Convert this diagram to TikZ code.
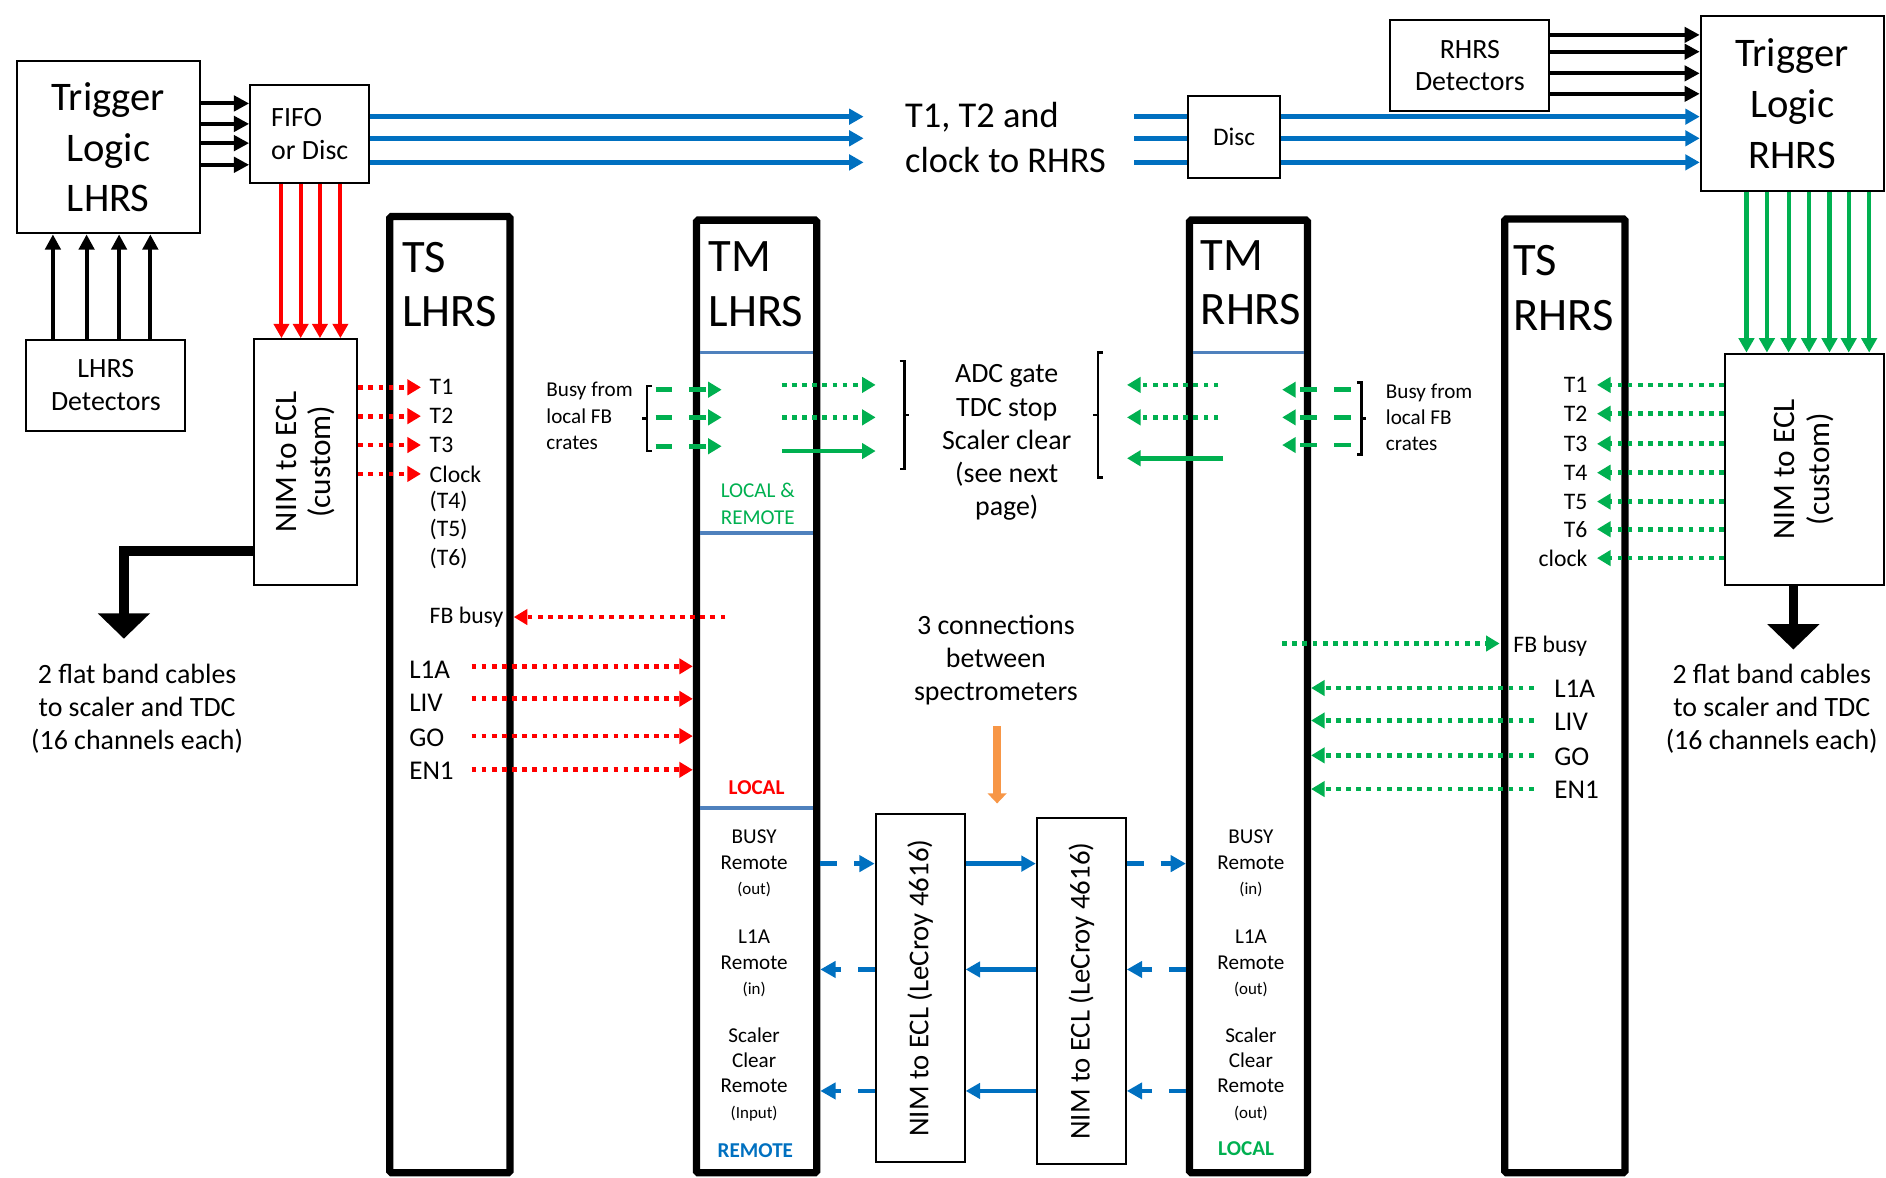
\documentclass[tikz,border=0pt]{standalone}
\usepackage{fontspec}
\setmainfont{Carlito}
\usetikzlibrary{arrows.meta, positioning, calc, fit}

\definecolor{tsred}{RGB}{255,0,0}
\definecolor{tsgreen}{RGB}{0,176,80}
\definecolor{tsblue}{RGB}{0,112,192}
\definecolor{sepblue}{RGB}{79,129,189}
\definecolor{connorange}{RGB}{247,150,70}

\newcommand{\portsmall}{\fontsize{10}{15}\selectfont}

\begin{document}
\begin{tikzpicture}[
    x=0.025cm, y=-0.025cm,
    box/.style={
        draw=black, line width=1.2pt,
        inner sep=0pt, align=center,
        font=\fontsize{16.5}{19.5}\selectfont
    },
    bigbox/.style={
        box, font=\fontsize{24}{30}\selectfont
    },
    rack/.style={
        draw=black, line width=4.3pt,
        inner sep=0pt, rounded corners=1pt
    },
    rackname/.style={
        anchor=north west, align=left, inner sep=0pt,
        font=\fontsize{27.5}{32}\selectfont
    },
    sig/.style={inner sep=0pt, font=\fontsize{14}{16.5}\selectfont},
    bigsig/.style={inner sep=0pt, font=\fontsize{16}{20}\selectfont},
    note/.style={inner sep=0pt, align=center, font=\fontsize{16.5}{19.6}\selectfont},
    busy/.style={inner sep=0pt, align=left, font=\fontsize{12.5}{15.6}\selectfont},
    port/.style={inner sep=0pt, align=center, font=\fontsize{12.5}{15}\selectfont},
    tag/.style={inner sep=0pt, align=center, font=\fontsize{12.5}{15.6}\selectfont},
    rotnim/.style={inner sep=0pt, align=center, rotate=90, font=\fontsize{18.5}{20.5}\selectfont},
    rotlec/.style={inner sep=0pt, rotate=90, font=\fontsize{17}{20}\selectfont},
    blk/.style={
        draw=black, line width=2.4pt,
        -{Triangle[length=9pt, width=9pt]}
    },
    redarrow/.style={
        draw=tsred, line width=2.4pt,
        -{Triangle[length=8.5pt, width=9pt]}
    },
    grnarrow/.style={
        draw=tsgreen, line width=2.4pt,
        -{Triangle[length=8.5pt, width=9pt]}
    },
    bluearrow/.style={
        draw=tsblue, line width=2.8pt,
        -{Triangle[length=8.5pt, width=9pt]}
    },
    blueline/.style={draw=tsblue, line width=2.8pt},
    reddot/.style={
        draw=tsred, line width=2.8pt, dash pattern=on 2.8pt off 3.2pt,
        -{Triangle[length=8pt, width=9pt]}
    },
    grndot/.style={
        draw=tsgreen, line width=2.8pt, dash pattern=on 2.8pt off 3.2pt,
        -{Triangle[length=8pt, width=9pt]}
    },
    grndash/.style={
        draw=tsgreen, line width=2.8pt, dash pattern=on 10pt off 10pt,
        -{Triangle[length=8pt, width=9pt]}
    },
    grnline/.style={
        draw=tsgreen, line width=2.8pt,
        -{Triangle[length=8pt, width=9pt]}
    },
    bluedash/.style={
        draw=tsblue, line width=2.8pt, dash pattern=on 10pt off 10pt,
        -{Triangle[length=9pt, width=9.5pt]}
    },
    brace/.style={draw=black, line width=1.4pt},
    divider/.style={draw=sepblue, line width=2.2pt, shorten <=4.3pt, shorten >=4.3pt},
    fatarrow/.style={
        draw=black, line width=5.7pt,
        -{Triangle[length=15pt, width=30pt]}
    },
    orangearrow/.style={
        draw=connorange, line width=4.5pt,
        -{Triangle[length=6pt, width=11pt]}
    }
]

\useasboundingbox (0,0) rectangle (1568,979);

% LHRS trigger side
\node[bigbox, minimum width=3.8cm, minimum height=3.575cm] (tll) at (90,122.5) {Trigger\\Logic\\LHRS};
\node[box, minimum width=2.475cm, minimum height=2.025cm, align=left] (fifo) at (257.5,111.5) {FIFO\\or Disc};
\node[box, minimum width=3.3cm, minimum height=1.875cm] (ldet) at (88,320.5) {LHRS\\Detectors};
\node[box, minimum width=2.15cm, minimum height=5.1cm] (nimL) at (254,384) {};
\node[rotnim] (nimLtxt) at (nimL.center) {NIM to ECL\\(custom)};

% RHRS trigger side
\node[box, minimum width=3.3cm, minimum height=1.875cm] (rdet) at (1222,54.5) {RHRS\\Detectors};
\node[bigbox, minimum width=3.8cm, minimum height=3.65cm] (tlr) at (1490,86) {Trigger\\Logic\\RHRS};
\node[box, minimum width=1.9cm, minimum height=1.7cm, font=\fontsize{15}{18}\selectfont] (disc) at (1026,114) {Disc};
\node[box, minimum width=3.3cm, minimum height=4.8cm] (nimR) at (1500,390) {};
\node[rotnim] (nimRtxt) at (nimR.center) {NIM to ECL\\(custom)};

\node[inner sep=0pt, align=left, font=\fontsize{21.5}{26.5}\selectfont] (t12) at (836,114) {T1, T2 and\\clock to RHRS};

% Arrows between trigger boxes
\foreach \y in {86,103,119,137}
    \draw[blk] (tll.east |- 0,\y) -- (fifo.west |- 0,\y);
\foreach \x in {44,72,99,125}
    \draw[blk] (ldet.north -| \x,0) -- (tll.south -| \x,0);
\foreach \y in {29,43,61,78}
    \draw[blk] (rdet.east |- 0,\y) -- (tlr.west |- 0,\y);
\foreach \x in {234,250,266,283}
    \draw[redarrow] (fifo.south -| \x,0) -- (nimL.north -| \x,0);
\foreach \x in {1452,1469,1487,1504,1521,1537,1554}
    \draw[grnarrow] (tlr.south -| \x,0) -- (nimR.north -| \x,0);
\foreach \y [count=\i] in {97,115,135} {
    \coordinate (bend\i) at (718,\y);
    \coordinate (bstart\i) at (943,\y);
    \draw[bluearrow] (fifo.east |- bend\i) -- (bend\i);
    \draw[blueline] (bstart\i) -- (disc.west |- bstart\i);
    \draw[bluearrow] (disc.east |- bstart\i) -- (tlr.west |- bstart\i);
}

% Flat band cables
\coordinate (lcab) at (103,531);
\coordinate (rcab) at (1491,540);
\draw[fatarrow] (nimL.west |- 0,458) -| (lcab);
\draw[fatarrow] (nimR.south -| rcab) -- (rcab);
\node[note] (lcabtxt) at (114,589) {2 flat band cables\\to scaler and TDC\\(16 channels each)};
\node[note] (rcabtxt) at (1473,589) {2 flat band cables\\to scaler and TDC\\(16 channels each)};

% Racks
\node[rack, fit={(324,180) (424,975)}] (tsl) {};
\node[rack, fit={(579,183) (679,975)}] (tml) {};
\node[rack, fit={(989,183) (1087,975)}] (tmr) {};
\node[rack, fit={(1251,182) (1351,975)}] (tsr) {};
\node[rackname] (tsltxt) at (334,201) {TS\\LHRS};
\node[rackname] (tmltxt) at (589,201) {TM\\LHRS};
\node[rackname] (tmrtxt) at (998,200) {TM\\RHRS};
\node[rackname] (tsrtxt) at (1258,204) {TS\\RHRS};

\foreach \y in {293,443,672}
    \draw[divider] (tml.west |- 0,\y) -- (tml.east |- 0,\y);
\draw[divider] (tmr.west |- 0,293) -- (tmr.east |- 0,293);

% TS LHRS signals
\foreach \t/\y [count=\i] in {T1/322,T2/346,T3/370,Clock/394} {
    \node[sig, anchor=west] (lin\i) at (357,\y) {\t};
    \draw[reddot] (nimL.east |- lin\i.west) -- ([xshift=-5pt]lin\i.west);
}
\foreach \t/\y [count=\i] in {(T4)/417,(T5)/440,(T6)/464}
    \node[sig, anchor=west] (lex\i) at (357,\y) {\t};
\node[sig, anchor=west] (lfb) at (357,513) {FB busy};
\coordinate (lfbsrc) at (603,513);
\draw[reddot] (lfbsrc) -- ([xshift=6pt]lfb.east);
\foreach \t/\y/\a [count=\i] in {L1A/557/554,LIV/584/581,GO/613/612,EN1/641/640} {
    \node[bigsig, anchor=west] (lout\i) at (340,\y) {\t};
    \draw[reddot] (392,\a) -- (tml.west |- 0,\a);
}

% TS RHRS signals
\foreach \t/\y [count=\i] in {T1/320,T2/344,T3/369,T4/393,T5/417,T6/440,clock/464} {
    \node[sig, anchor=east] (rin\i) at (1320,\y) {\t};
    \draw[grndot] (nimR.west |- rin\i.east) -- ([xshift=5.5pt]rin\i.east);
}
\node[sig, anchor=west] (rfb) at (1258,537) {FB busy};
\coordinate (rfbsrc) at (1066,535);
\draw[grndot] (rfbsrc) -- ([xshift=-8pt]rfb.west |- rfbsrc);
\foreach \t/\y/\a [count=\i] in {L1A/573/572,LIV/600/599,GO/629/628,EN1/657/656} {
    \node[bigsig, anchor=west] (rout\i) at (1292,\y) {\t};
    \draw[grndot] (1275,\a) -- (tmr.east |- 0,\a);
}

% Busy from local FB crates
\node[busy, anchor=west] (lbusy) at (454,346) {Busy from\\local FB\\crates};
\draw[brace] (542,321) -- (538,321) -- (538,375) -- (542,375) (538,348) -- (534,348);
\foreach \y in {324,347,371}
    \draw[grndash] (545,\y) -- (600,\y);
\node[busy, anchor=west] (rbusy) at (1152,347) {Busy from\\local FB\\crates};
\draw[brace] (1128,318) -- (1132,318) -- (1132,378) -- (1128,378) (1132,348) -- (1136,348);
\foreach \y in {324,347,370}
    \draw[grndash] (1123,\y) -- (1066,\y);

% ADC gate, TDC stop, scaler clear
\node[note] (adc) at (837,368) {ADC gate\\TDC stop\\Scaler clear\\(see next\\page)};
\draw[brace] (748,300) -- (752,300) -- (752,390) -- (748,390) (752,345) -- (756,345);
\draw[brace] (917,293) -- (913,293) -- (913,397) -- (917,397) (913,345) -- (909,345);
\foreach \y in {320,347}
    \draw[grndot] (650,\y) -- (728,\y);
\draw[grnline] (650,375) -- (728,375);
\foreach \y in {320,347}
    \draw[grndot] (1013,\y) -- (937,\y);
\draw[grnline] (1017,381) -- (937,381);

% TM labels
\node[tag, text=tsgreen] (lrtag) at (630,419) {LOCAL \&\\REMOTE};
\node[tag, text=tsred, font=\fontsize{12.5}{15}\selectfont\bfseries] (llocal) at (629,655) {LOCAL};
\node[tag, text=tsblue, font=\fontsize{12.5}{15}\selectfont\bfseries] (lremote) at (628,957) {REMOTE};
\node[tag, text=tsgreen, font=\fontsize{12.5}{15}\selectfont\bfseries] (rlocal) at (1036,955) {LOCAL};
\node[port] (lbusyp) at (627,718) {BUSY\\Remote\\{\portsmall (out)}};
\node[port] (ll1ap) at (627,801) {L1A\\Remote\\{\portsmall (in)}};
\node[port] (lsclp) at (627,893) {Scaler\\Clear\\Remote\\{\portsmall (Input)}};
\node[port] (rbusyp) at (1040,718) {BUSY\\Remote\\{\portsmall (in)}};
\node[port] (rl1ap) at (1040,801) {L1A\\Remote\\{\portsmall (out)}};
\node[port] (rsclp) at (1040,893) {Scaler\\Clear\\Remote\\{\portsmall (out)}};

% Connections between spectrometers
\node[note] (conn) at (828,549) {3 connections\\between\\spectrometers};
\coordinate (otop) at (829,604);
\coordinate (obot) at (829,668);
\draw[orangearrow] (otop) -- (obot);

\node[box, fit={(728,677) (802,966)}] (lec1) {};
\node[box, fit={(862,680) (936,968)}] (lec2) {};
\node[rotlec] (lec1txt) at (lec1.center) {NIM to ECL (LeCroy 4616)};
\node[rotlec] (lec2txt) at (lec2.center) {NIM to ECL (LeCroy 4616)};

\draw[bluedash] (tml.east |- 0,718) -- (lec1.west |- 0,718);
\draw[bluearrow] (lec1.east |- 0,718) -- (lec2.west |- 0,718);
\draw[bluedash] (lec2.east |- 0,718) -- (tmr.west |- 0,718);
\foreach \y in {806,907} {
    \draw[bluedash] (tmr.west |- 0,\y) -- (lec2.east |- 0,\y);
    \draw[bluearrow] (lec2.west |- 0,\y) -- (lec1.east |- 0,\y);
    \draw[bluedash] (lec1.west |- 0,\y) -- (tml.east |- 0,\y);
}

\end{tikzpicture}
\end{document}
